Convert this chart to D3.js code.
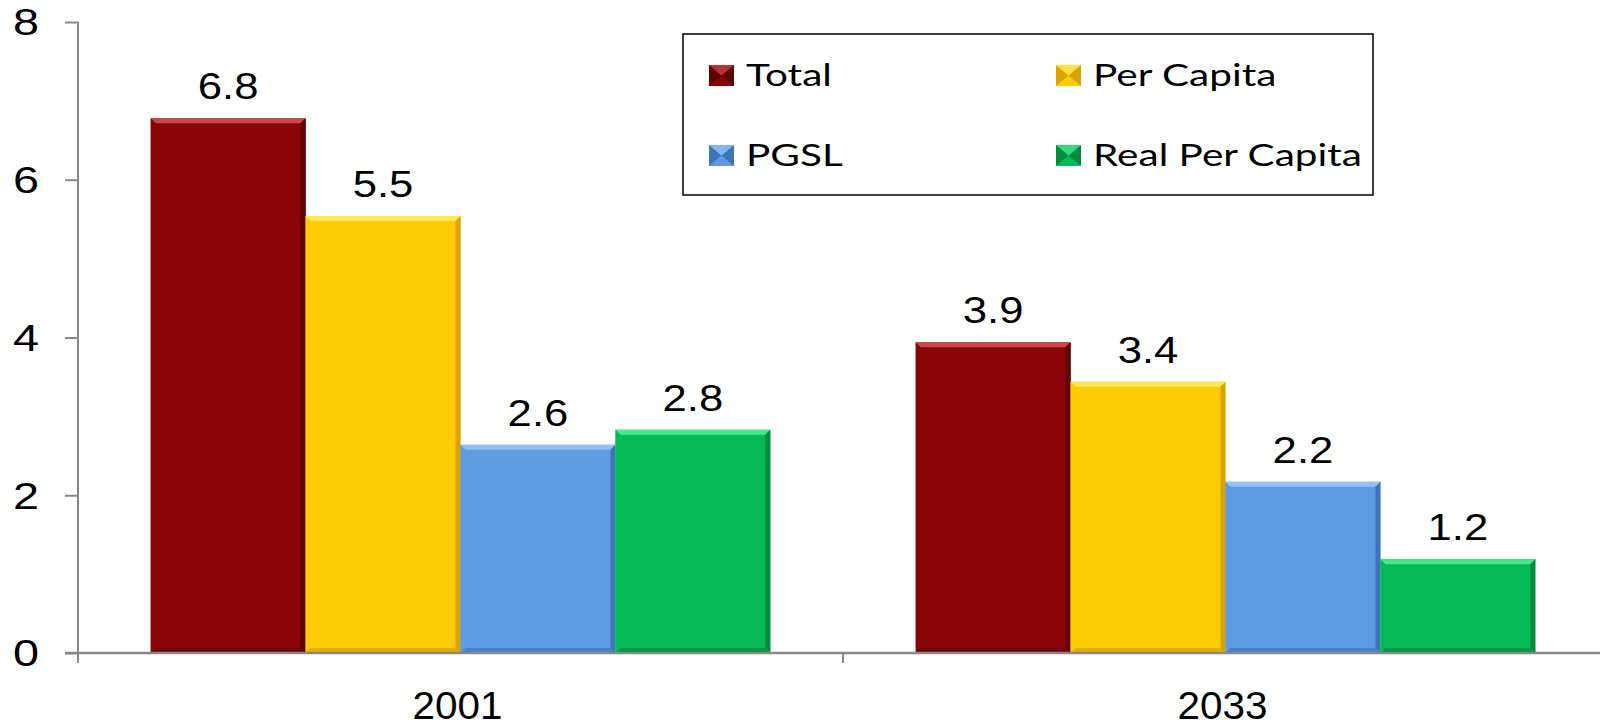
<!DOCTYPE html>
<html>
<head>
<meta charset="utf-8">
<script src="https://cdn.jsdelivr.net/npm/d3@7"></script>
<style>
  body { margin: 0; background: #fff; }
  svg { display: block; }
</style>
</head>
<body>
<div class="chart"></div>
<script>
var years = ["2001", "2033"];
var seriesNames = ["Total", "Per Capita", "PGSL", "Real Per Capita"];
var total = [6.78, 3.94];
var perCapita = [5.54, 3.44];
var pgsl = [2.64, 2.17];
var realPerCapita = [2.83, 1.19];
var yTicks = [0, 2, 4, 6, 8];

var colors = {
    "Total": {base: "#8a0407", light: "#c9494b", dark: "#5e0204"},
    "Per Capita": {base: "#ffcb05", light: "#ffe85a", dark: "#d9a400"},
    "PGSL": {base: "#5f9be1", light: "#93c1f4", dark: "#3f74b8"},
    "Real Per Capita": {base: "#05ba57", light: "#48e98e", dark: "#038a3f"}
};

var width = 1600, height = 727;
var data = years.map(function (y, i) {
    return {year: y, values: [
        {name: "Total", value: total[i]},
        {name: "Per Capita", value: perCapita[i]},
        {name: "PGSL", value: pgsl[i]},
        {name: "Real Per Capita", value: realPerCapita[i]}
    ]};
});

var svg = d3.select(".chart").append("svg")
        .attr("width", width)
        .attr("height", height);

var yScale = d3.scaleLinear().domain([0, 8]).range([653, 22]);
var x0 = d3.scaleBand().domain(years).range([78, 1608])
        .paddingInner(0.19).paddingOuter(0.095);
var x1 = d3.scaleBand().domain(seriesNames).range([0, x0.bandwidth()]);
var fmt = d3.format(".1f");
var arial = "'Liberation Sans', Arial, sans-serif";

// bars with bevel
var groups = svg.selectAll(".grp")
        .data(data)
        .enter().append("g")
        .attr("class", "grp")
        .attr("transform", function (d) { return "translate(" + x0(d.year) + ",0)"; });

var bars = groups.selectAll(".bar")
        .data(function (d) { return d.values; })
        .enter().append("g")
        .attr("class", "bar");

bars.each(function (d) {
    var g = d3.select(this);
    var x = x1(d.name), w = x1.bandwidth(), y = yScale(d.value), h = yScale(0) - y;
    var c = colors[d.name], b = 5;
    g.append("rect").attr("x", x).attr("y", y).attr("width", w).attr("height", h).attr("fill", c.base);
    // top
    g.append("polygon").attr("fill", c.light)
            .attr("points", [[x, y], [x + w, y], [x + w - b, y + b], [x + b, y + b]].join(" "));
    // left
    g.append("polygon").attr("fill", c.base).attr("opacity", 0.6)
            .attr("points", [[x, y], [x + b, y + b], [x + b, y + h - b], [x, y + h]].join(" "));
    // right
    g.append("polygon").attr("fill", c.dark)
            .attr("points", [[x + w, y], [x + w, y + h], [x + w - b, y + h - b], [x + w - b, y + b]].join(" "));
    // bottom
    g.append("polygon").attr("fill", c.dark).attr("opacity", 0.7)
            .attr("points", [[x, y + h], [x + w, y + h], [x + w - b, y + h - b], [x + b, y + h - b]].join(" "));
});

// value labels
bars.append("text")
        .attr("transform", function (d) {
            return "translate(" + (x1(d.name) + x1.bandwidth() / 2) + "," + (yScale(d.value) - 19) + ") scale(1.18,1)";
        })
        .attr("text-anchor", "middle")
        .style("font-family", arial)
        .style("font-size", "37px")
        .attr("fill", "#000")
        .text(function (d) { return fmt(d.value); });

// y axis
var yAxis = d3.axisLeft(yScale).tickValues(yTicks).tickSize(13).tickPadding(26)
        .tickFormat(d3.format("d"));
var y_g = svg.append("g")
        .attr("transform", "translate(78,0)")
        .call(yAxis);
y_g.select(".domain").remove();
y_g.selectAll("line").style("stroke", "#888").style("stroke-width", 2);
y_g.selectAll("text")
        .style("font-family", arial)
        .style("font-size", "36px")
        .attr("fill", "#000")
        .attr("x", 0)
        .attr("dy", "0.36em")
        .attr("transform", "translate(-39,0) scale(1.3,1)");
svg.append("line")
        .attr("x1", 78).attr("x2", 78)
        .attr("y1", yScale(8)).attr("y2", 663)
        .style("stroke", "#888").style("stroke-width", 2);

// x axis
svg.append("line")
        .attr("x1", 65).attr("x2", width)
        .attr("y1", yScale(0)).attr("y2", yScale(0))
        .style("stroke", "#888").style("stroke-width", 2.5);
var boundaries = years.map(function (y) { return x0(y) - x0.step() * x0.paddingInner() / 2; });
boundaries.push(x0(years[years.length - 1]) + x0.bandwidth() + x0.step() * x0.paddingInner() / 2);
svg.selectAll(".xtick")
        .data(boundaries)
        .enter().append("line")
        .attr("class", "xtick")
        .attr("x1", function (d) { return d; }).attr("x2", function (d) { return d; })
        .attr("y1", yScale(0)).attr("y2", 663)
        .style("stroke", "#888").style("stroke-width", 2);
svg.selectAll(".xlabel")
        .data(years)
        .enter().append("text")
        .attr("class", "xlabel")
        .attr("transform", function (d) {
            return "translate(" + (x0(d) + x0.bandwidth() / 2 - 3) + ",719) scale(1.05,1)";
        })
        .attr("text-anchor", "middle")
        .style("font-family", arial)
        .style("font-size", "38.5px")
        .text(function (d) { return d; });

// legend
var legend = svg.append("g");
legend.append("rect")
        .attr("x", 683).attr("y", 34).attr("width", 690).attr("height", 161)
        .attr("fill", "#fff").attr("stroke", "#000").attr("stroke-width", 1.5);
var legendPos = [[709, 65], [1056, 65], [709, 145], [1056, 145]];
var items = legend.selectAll(".item")
        .data(seriesNames)
        .enter().append("g")
        .attr("class", "item")
        .attr("transform", function (d, i) { return "translate(" + legendPos[i][0] + "," + legendPos[i][1] + ")"; });
items.each(function (d) {
    var g = d3.select(this), c = colors[d], w = 25, h = 21;
    g.append("rect").attr("width", w).attr("height", h).attr("fill", c.base);
    g.append("polygon").attr("fill", c.dark).attr("points", [[0, 0], [w / 2, h / 2], [0, h]].join(" "));
    g.append("polygon").attr("fill", c.dark).attr("points", [[w, 0], [w / 2, h / 2], [w, h]].join(" "));
    g.append("polygon").attr("fill", c.light).attr("opacity", 0.7).attr("points", [[0, 0], [w, 0], [w / 2, h / 2]].join(" "));
});
items.append("text")
        .attr("transform", "translate(37,21) scale(1.33,1)")
        .style("font-family", "Lato, 'Open Sans', sans-serif")
        .style("font-size", "30.5px")
        .text(function (d) { return d; });
</script>
</body>
</html>
